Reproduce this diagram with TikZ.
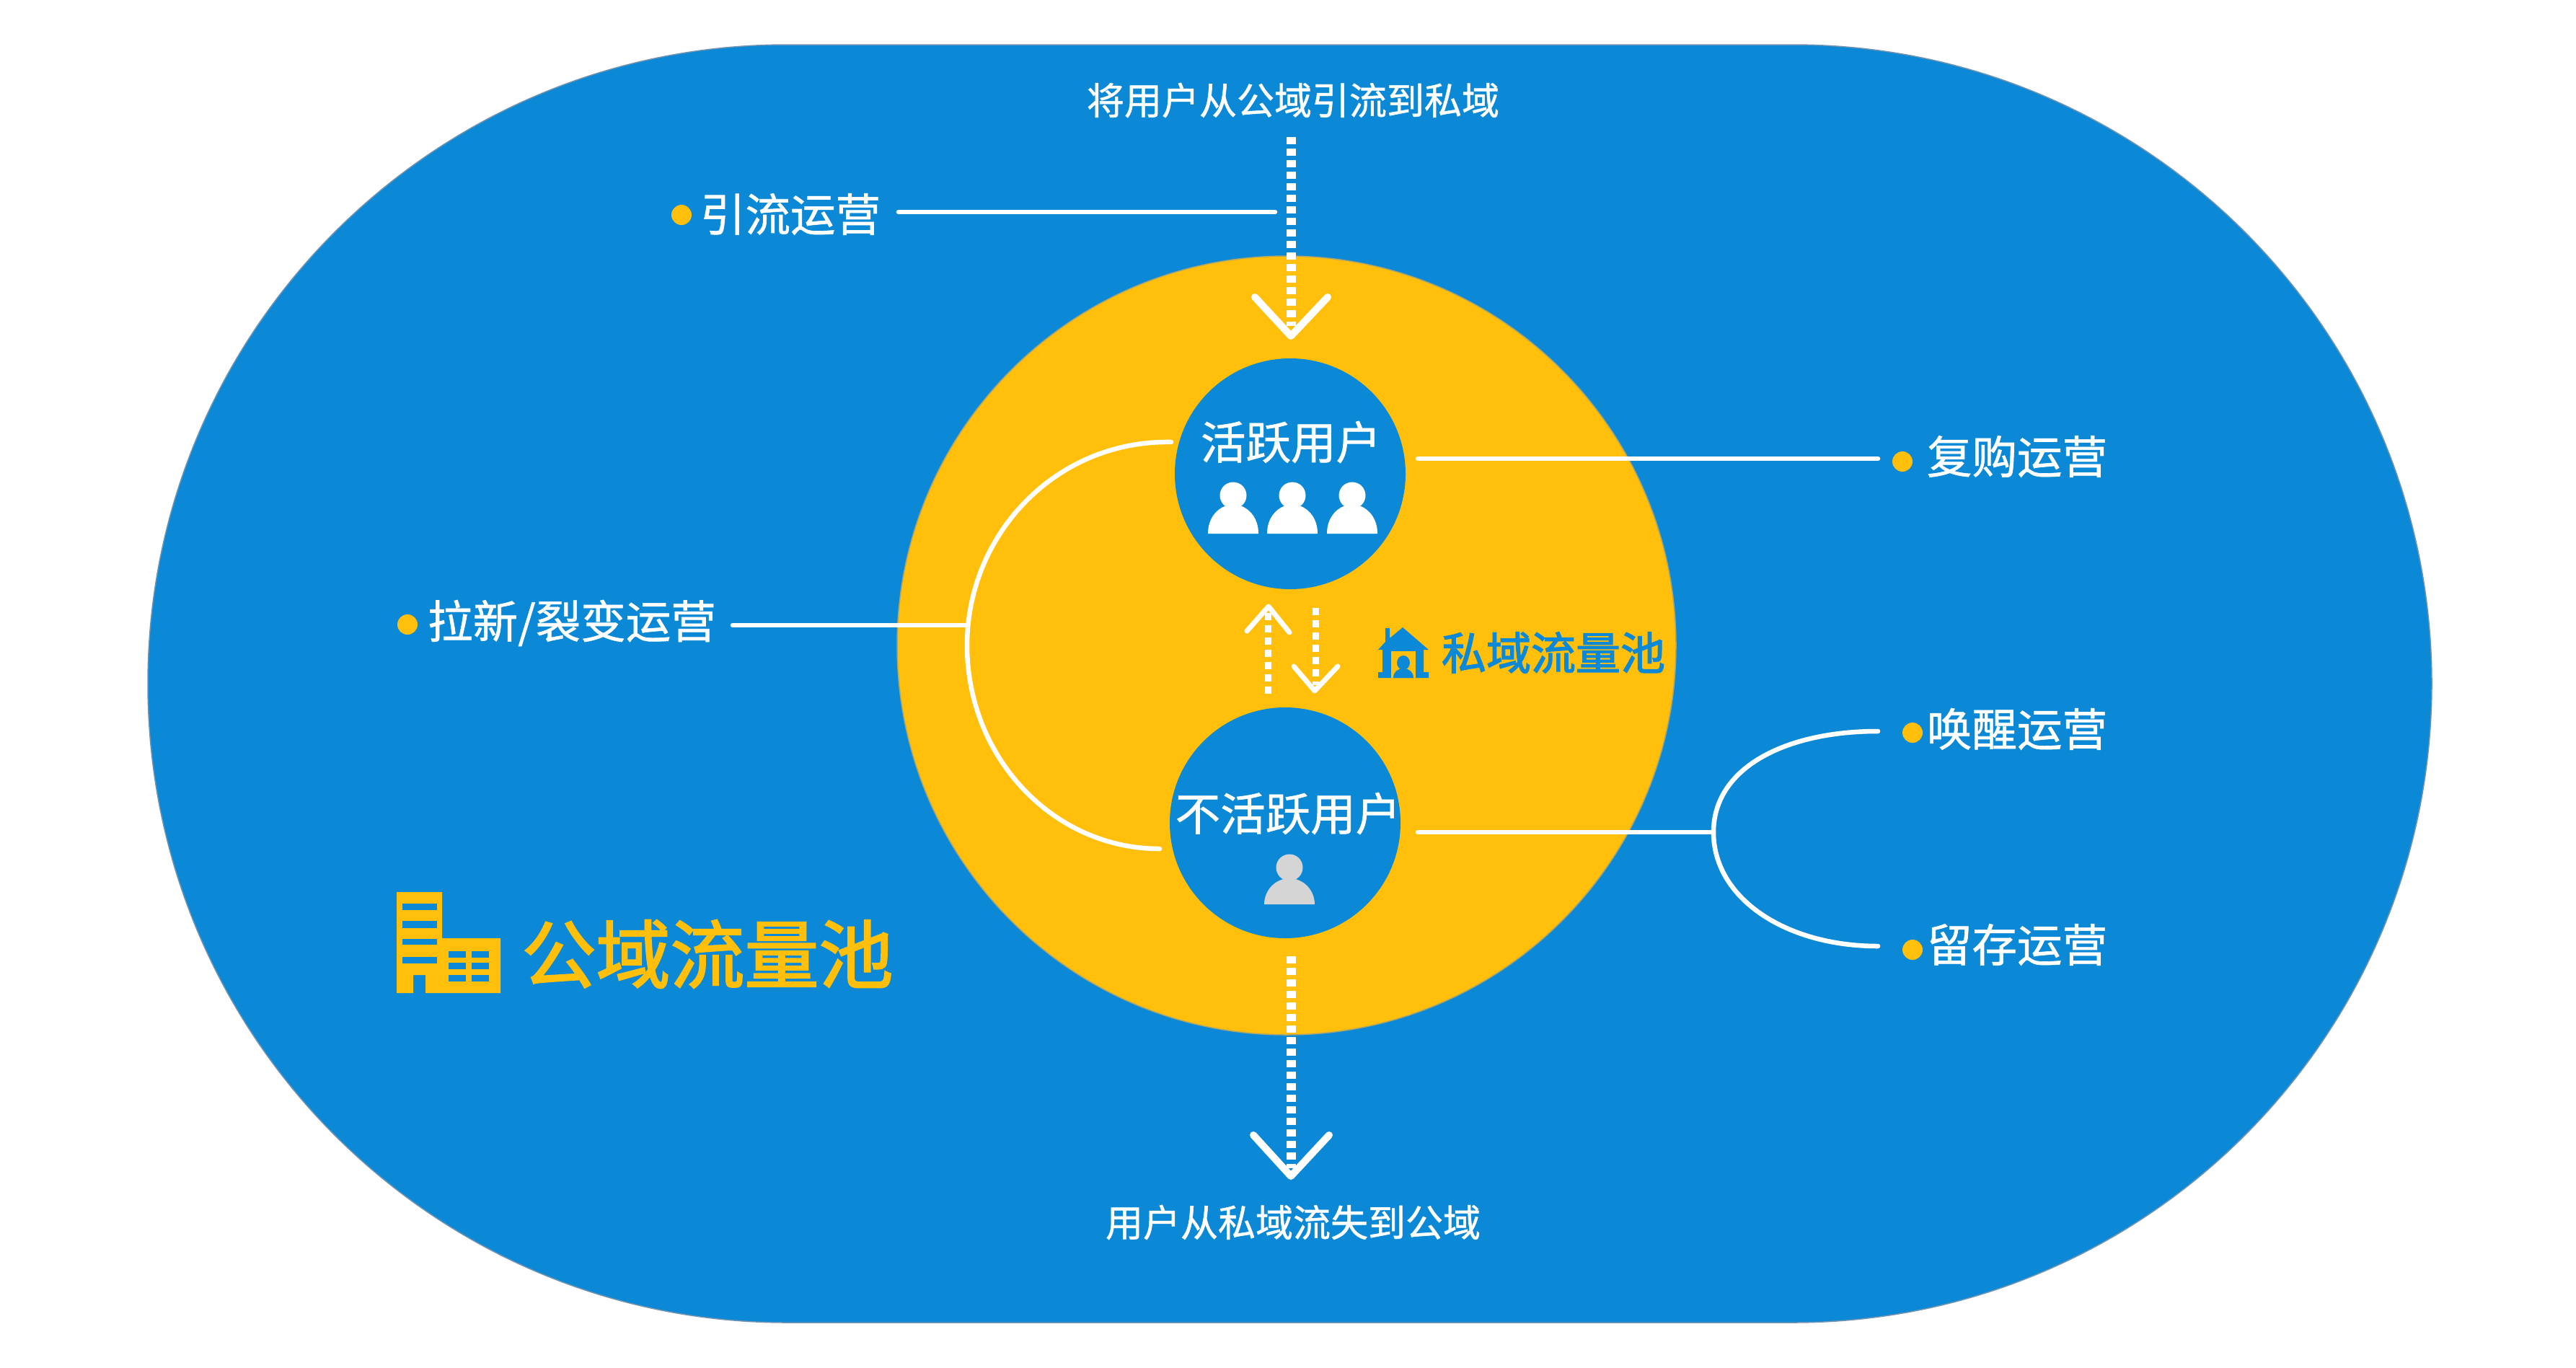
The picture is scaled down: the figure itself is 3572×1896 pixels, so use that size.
\documentclass[tikz,border=0pt]{standalone}
\usepackage{fontspec}
\setmainfont[RawFeature={embolden=1.0}]{Noto Sans CJK SC}
\newfontfamily\headfont[RawFeature={embolden=2.2}]{Noto Sans CJK SC}
\definecolor{pblue}{HTML}{0C89D6}
\definecolor{pyellow}{HTML}{FFBF0B}
\definecolor{pgrey}{HTML}{D5D5D5}
\definecolor{pedge}{HTML}{6F93B0}
\tikzset{
  lab/.style={text=white,inner sep=0pt,font=\fontsize{#1}{#1}\selectfont},
  lab/.default=62.5,
  wline/.style={draw=white,line width=6.5pt,line cap=round},
  dotline/.style={draw=white,line width=13pt,dash pattern=on 10pt off 6pt},
  dotsmall/.style={draw=white,line width=9pt,dash pattern=on 10pt off 7pt},
  vhead/.style={draw=white,line width=10pt,line cap=round,line join=round},
  vsmall/.style={draw=white,line width=7pt,line cap=round,line join=round},
  bullet/.style={circle,fill=pyellow,minimum size=28pt,inner sep=0pt},
  inner/.style={circle,fill=pblue,minimum size=320pt,inner sep=0pt},
}
\newcommand{\person}[3]{%
  \fill[#3] (#1,#2-23) ellipse (18.5 and 18.5);
  \fill[#3] (#1-35,#2+30) .. controls (#1-35,#2+8) and (#1-22,#2-4) .. (#1-12,#2-8) -- (#1+12,#2-8) .. controls (#1+22,#2-4) and (#1+35,#2+8) .. (#1+35,#2+30) -- cycle;
}
\begin{document}
\begin{tikzpicture}[x=1pt,y=-1pt]
\useasboundingbox (0,0) rectangle (3572,1896);
\fill[white] (0,0) rectangle (3572,1896);
% outer stadium
\filldraw[fill=pblue,draw=pedge,line width=1.5pt,rounded corners=886pt] (205,62) rectangle (3372,1834);
% private pool
\node[circle,fill=pyellow,draw=pedge!60!pyellow,line width=1.5pt,minimum size=1080pt,inner sep=0pt] (pool) at (1784,895) {};
\node[inner] (active) at (1789,657) {};
\node[inner] (inactive) at (1782,1141) {};
\node[lab] (activetext) at (1790,613) {活跃用户};
\node[lab] (inactivetext) at (1786,1128) {不活跃用户};
\person{1710}{710}{white}
\person{1792}{710}{white}
\person{1875}{710}{white}
\fill[pgrey] (1788,1203) circle (18.5);
\fill[pgrey] (1753,1254) .. controls (1753,1235) and (1768,1218) .. (1788,1218) .. controls (1808,1218) and (1823,1235) .. (1823,1254) -- cycle;
% labels
\node[lab=52] (intext) at (1793,139) {将用户从公域引流到私域};
\node[lab=52] (outtext) at (1793,1695) {用户从私域流失到公域};
\node[lab] (t1) at (1096,297) {引流运营};
\node[lab] (t2) at (793,864) {拉新/裂变运营};
\node[lab] (t3) at (2797,633) {复购运营};
\node[lab] (t4) at (2797,1011) {唤醒运营};
\node[lab] (t5) at (2797,1310) {留存运营};
\node[bullet] (b1) at (945,298) {};
\node[bullet] (b2) at (565,866) {};
\node[bullet] (b3) at (2638,640) {};
\node[bullet] (b4) at (2652,1016) {};
\node[bullet] (b5) at (2652,1317) {};
\node[inner sep=0pt,text=pblue,font=\fontsize{62}{62}\selectfont\headfont] (privtext) at (2154,905) {私域流量池};
\node[inner sep=0pt,text=pyellow,font=\fontsize{103}{103}\selectfont\headfont] (pubtext) at (981,1323) {公域流量池};
% connector end points
\coordinate (a1) at (1246,294); \coordinate (a2) at (1768,294);
\coordinate (c1) at (1966,636); \coordinate (c2) at (2604,636);
\coordinate (d1) at (1016,867); \coordinate (d2) at (1341,867);
\coordinate (e1) at (1624,613); \coordinate (e2) at (1341,895); \coordinate (e3) at (1608,1177);
\coordinate (f1) at (1966,1154); \coordinate (f2) at (2376,1154);
\coordinate (g1) at (2604,1014); \coordinate (g2) at (2604,1312);
\coordinate (i1) at (1790,190); \coordinate (i2) at (1790,452); \coordinate (i3) at (1790,466);
\coordinate (i4) at (1740,412); \coordinate (i5) at (1841,412);
\coordinate (o1) at (1790,1326); \coordinate (o2) at (1790,1620); \coordinate (o3) at (1790,1631);
\coordinate (o4) at (1738,1574); \coordinate (o5) at (1843,1574);
\coordinate (u1) at (1758,962); \coordinate (u2) at (1758,850); \coordinate (u3) at (1759,841);
\coordinate (u4) at (1729,875); \coordinate (u5) at (1788,877);
\coordinate (n1) at (1824,843); \coordinate (n2) at (1824,950); \coordinate (n3) at (1823,958);
\coordinate (n4) at (1794,924); \coordinate (n5) at (1855,924);
% connectors
\draw[wline] (a1) -- (a2);
\draw[wline] (c1) -- (c2);
\draw[wline] (d1) -- (d2);
\draw[wline] (f1) -- (f2);
\draw[wline] (e1) .. controls (1465,610) and (1341,740) .. (e2) .. controls (1341,1050) and (1460,1177) .. (e3);
\draw[wline] (g1) .. controls (2475,1014) and (2376,1065) .. (f2) .. controls (2376,1245) and (2475,1312) .. (g2);
\draw[dotline] (i1) -- (i2);
\draw[vhead] (i4) -- (i3) -- (i5);
\draw[dotline] (o1) -- (o2);
\draw[vhead] (o4) -- (o3) -- (o5);
\draw[dotsmall] (u1) -- (u2);
\draw[vsmall] (u4) -- (u3) -- (u5);
\draw[dotsmall] (n1) -- (n2);
\draw[vsmall] (n4) -- (n3) -- (n5);
% building icon
\fill[pyellow] (550,1237) -- (613,1237) -- (613,1301) -- (694,1301) -- (694,1377) -- (590,1377) -- (590,1352) -- (573,1352) -- (573,1377) -- (550,1377) -- cycle;
\foreach \yy/\hh in {1253/9,1277/10,1302/8,1327/9}{\fill[pblue] (558,\yy) rectangle (606,\yy+\hh);}
\foreach \yy in {1319,1335,1352}{\fill[pblue] (622,\yy) rectangle (646,\yy+8.5); \fill[pblue] (654,\yy) rectangle (678,\yy+8.5);}
% house icon
\fill[pblue] (1921,871) -- (1927,871) -- (1927,885) -- (1945,870) -- (1981,901) -- (1974,901) -- (1974,932) -- (1981,932) -- (1981,940) -- (1911,940) -- (1911,932) -- (1917,932) -- (1917,901) -- (1911,901) -- (1921,890) -- cycle;
\fill[pyellow] (1929,903) rectangle (1963,940);
\fill[pblue] (1946,919) ellipse (9 and 10);
\fill[pblue] (1932,940) .. controls (1932,932) and (1938,927) .. (1946,927) .. controls (1954,927) and (1960,932) .. (1960,940) -- cycle;
\end{tikzpicture}
\end{document}
